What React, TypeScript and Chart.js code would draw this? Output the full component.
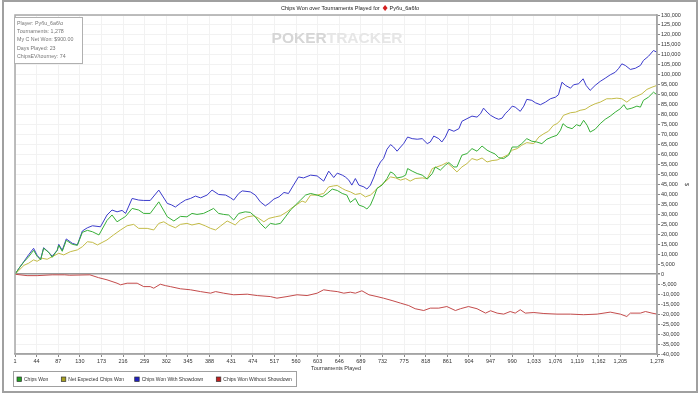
import React, { useEffect, useRef } from "react";
import { Chart, registerables } from "chart.js";

Chart.register(...registerables);

const CHART_TITLE = "Chips Won over Tournaments Played for";
const PLAYER_NAME = "Pyбu_6a6fo";
const INFO_LINES = [
  "Player: Pyбu_6a6\\o",
  "Tournaments: 1,278",
  "My C Net Won: $900.00",
  "Days Played: 23",
  "ChipsEV/tourney: 74",
];
const X_AXIS_TITLE = "Tournaments Played";
const Y_AXIS_TITLE = "$";
const WATERMARK_A = "POKER";
const WATERMARK_B = "TRACKER";

const X_TICKS = [
  1, 44, 87, 130, 173, 216, 259, 302, 345, 388, 431, 474, 517, 560, 603, 646, 689, 732, 775, 818,
  861, 904, 947, 990, 1033, 1076, 1119, 1162, 1205, 1278,
];
const Y_MIN = -40000;
const Y_MAX = 130000;
const Y_STEP = 5000;

const SERIES_NAMES = [
  "Chips Won",
  "Net Expected Chips Won",
  "Chips Won With Showdown",
  "Chips Won Without Showdown",
];

// [tournament, chips]
const chipsWon: [number, number][] = [
  [1, 0], [9, 3000], [19, 6300], [28, 8700], [38, 12000], [45, 9000], [52, 7200], [58, 13000],
  [68, 11000], [75, 8500], [85, 12000], [88, 14500], [95, 11500], [103, 17000], [115, 15000],
  [125, 14500], [135, 21000], [145, 22000], [155, 21300], [168, 19700], [184, 27000], [194, 29700],
  [204, 26300], [221, 29000], [234, 33000], [247, 32200], [257, 30500], [270, 30500], [287, 36300],
  [304, 28800], [317, 26700], [330, 29000], [343, 28800], [353, 30500], [363, 30000], [376, 30500],
  [386, 31700], [396, 33000], [406, 30500], [416, 30000], [426, 29700], [436, 27200], [446, 30500],
  [459, 31300], [469, 31000], [479, 28800], [489, 25500], [499, 23000], [509, 25500], [519, 25000],
  [529, 25500], [539, 28800], [549, 32200], [559, 34700], [569, 37200], [579, 39700], [589, 40500],
  [602, 39700], [612, 38800], [622, 40500], [632, 42700], [642, 42000], [652, 40500], [661, 39700],
  [668, 36000], [678, 38000], [685, 34700], [695, 33800], [701, 32700], [708, 34700], [715, 38800],
  [721, 43000], [731, 44700], [741, 48000], [748, 51300], [754, 50500], [761, 48300], [771, 48800],
  [778, 49700], [782, 53000], [791, 51700], [801, 50500], [811, 49700], [821, 47700], [831, 50500],
  [837, 53800], [847, 52200], [857, 54700], [864, 56000], [874, 53800], [880, 53800], [890, 59700],
  [900, 60500], [910, 63000], [920, 61700], [930, 64300], [940, 62200], [947, 61300], [956, 60300],
  [963, 58500], [973, 58000], [983, 59700], [990, 63800], [1000, 63800], [1009, 65500], [1019, 68000],
  [1029, 66700], [1039, 66300], [1049, 65500], [1059, 67700], [1069, 68800], [1079, 69700],
  [1086, 72200], [1091, 75500], [1099, 73800], [1109, 73000], [1118, 75000], [1125, 74300],
  [1132, 77200], [1139, 74700], [1145, 71300], [1155, 72700], [1165, 75500], [1175, 77700],
  [1185, 79300], [1195, 81300], [1205, 83000], [1212, 85000], [1218, 82700], [1228, 83300],
  [1238, 84300], [1245, 83800], [1251, 87200], [1261, 88800], [1271, 91300], [1278, 90000],
];

const netExpected: [number, number][] = [
  [1, 0], [19, 4500], [28, 5500], [38, 7200], [45, 6500], [55, 8000], [65, 7500], [75, 8800],
  [88, 10500], [98, 9700], [111, 11300], [125, 12200], [135, 13800], [145, 16300], [155, 16000],
  [165, 14700], [184, 17200], [197, 19700], [211, 22200], [224, 24300], [237, 25000], [247, 23000],
  [264, 23000], [277, 22200], [287, 25500], [297, 26300], [307, 24700], [320, 23300], [330, 25000],
  [343, 25500], [353, 24700], [367, 25500], [380, 24200], [390, 23000], [400, 22200], [410, 24200],
  [423, 26700], [433, 25500], [439, 24700], [449, 27200], [463, 28800], [476, 29300], [486, 28000],
  [496, 26300], [506, 28000], [519, 28800], [529, 29300], [542, 31300], [552, 33300], [562, 35000],
  [572, 36700], [579, 36000], [589, 39700], [602, 39700], [615, 40500], [625, 43800], [635, 44300],
  [642, 44500], [652, 43000], [658, 42200], [668, 41300], [678, 40000], [688, 40500], [698, 38800],
  [708, 39700], [715, 41300], [721, 43000], [731, 45000], [741, 47200], [748, 48800], [758, 48300],
  [768, 47200], [778, 48000], [787, 46700], [797, 48000], [811, 48300], [821, 48000], [831, 53000],
  [840, 53800], [850, 54700], [860, 56000], [870, 53800], [880, 51300], [890, 53800], [900, 55500],
  [910, 58000], [920, 57200], [930, 58300], [940, 56300], [950, 57000], [960, 57300], [966, 58000],
  [980, 59700], [990, 62200], [1000, 63000], [1009, 64700], [1019, 66000], [1033, 65500],
  [1043, 68800], [1053, 70500], [1062, 71700], [1072, 74700], [1079, 75500], [1086, 77200],
  [1092, 79700], [1106, 81000], [1116, 81300], [1125, 82200], [1135, 82700], [1145, 84300],
  [1155, 85500], [1165, 86300], [1178, 88000], [1188, 88000], [1198, 88300], [1208, 88000],
  [1218, 86300], [1228, 88300], [1238, 89300], [1248, 90500], [1258, 92700], [1268, 93800],
  [1278, 94700],
];

const withShowdown: [number, number][] = [
  [1, 0], [9, 3000], [19, 6500], [28, 9700], [38, 13000], [45, 9500], [52, 7500], [58, 13300],
  [68, 11000], [75, 9000], [85, 12000], [88, 15000], [95, 12000], [103, 17700], [115, 15500],
  [125, 14700], [135, 21700], [145, 23300], [155, 24300], [171, 23800], [184, 29700], [194, 32200],
  [204, 31300], [214, 32000], [221, 30500], [234, 38000], [247, 37200], [257, 37000], [270, 37000],
  [287, 42200], [304, 35500], [312, 34800], [320, 33700], [330, 35600], [340, 37200], [350, 38000],
  [360, 39200], [370, 38300], [383, 39700], [393, 42200], [406, 40000], [420, 39700], [430, 38300],
  [436, 37200], [446, 40500], [453, 41800], [469, 41300], [479, 39700], [489, 36300], [499, 34300],
  [506, 35500], [516, 37700], [526, 38800], [536, 41000], [545, 40500], [555, 44700], [565, 48800],
  [575, 48300], [589, 49700], [602, 49300], [615, 46700], [625, 51700], [635, 48500], [642, 50700],
  [652, 49700], [658, 48800], [665, 47200], [671, 44700], [678, 48000], [685, 44700], [695, 43800],
  [701, 42700], [708, 44700], [715, 48800], [721, 53000], [728, 56300], [734, 58000], [741, 62700],
  [748, 65000], [754, 63800], [761, 61700], [768, 63800], [774, 65500], [782, 68800], [791, 68000],
  [801, 67700], [811, 68000], [821, 65500], [827, 66300], [834, 69300], [844, 68000], [850, 66300],
  [857, 68800], [864, 72700], [874, 71700], [884, 73000], [890, 76700], [900, 78000], [910, 79300],
  [920, 78800], [927, 80500], [933, 83300], [940, 81300], [947, 79700], [956, 78400], [963, 77700],
  [970, 78300], [976, 80500], [983, 82200], [990, 84300], [996, 83800], [1006, 81700], [1013, 84300],
  [1019, 87700], [1029, 87200], [1036, 86000], [1046, 85000], [1056, 86300], [1066, 88000],
  [1076, 88800], [1082, 90000], [1089, 96300], [1096, 94700], [1106, 93300], [1112, 95000],
  [1122, 95500], [1131, 98000], [1137, 94700], [1145, 92200], [1155, 94700], [1165, 96700],
  [1175, 98300], [1185, 100000], [1195, 101300], [1202, 103300], [1208, 105500], [1215, 104700],
  [1225, 102700], [1235, 103300], [1245, 104700], [1251, 107200], [1261, 109300], [1271, 112200],
  [1278, 111300],
];

const withoutShowdown: [number, number][] = [
  [1, 0], [25, -700], [45, -700], [75, -300], [100, -300], [110, -500], [150, -300], [167, -1700],
  [184, -2800], [204, -4500], [211, -5300], [224, -4500], [244, -4500], [257, -6200], [270, -6200],
  [277, -7000], [290, -5000], [300, -5700], [310, -6200], [330, -7300], [350, -7800], [370, -8700],
  [390, -9500], [400, -8700], [416, -9500], [436, -10300], [463, -10000], [483, -10700],
  [509, -11200], [522, -12000], [542, -11200], [562, -10300], [582, -10700], [602, -9500],
  [615, -7800], [628, -8300], [642, -8700], [655, -9500], [668, -9000], [678, -9500], [691, -8300],
  [705, -10300], [721, -11200], [734, -12000], [751, -13200], [768, -14500], [784, -15700],
  [797, -17300], [814, -18200], [827, -17000], [844, -17000], [860, -16200], [877, -18200],
  [887, -17300], [903, -16200], [920, -17300], [937, -19500], [947, -18300], [960, -19500],
  [973, -20000], [986, -18700], [996, -19500], [1006, -17800], [1016, -19500], [1033, -19200],
  [1053, -19700], [1079, -20000], [1106, -20000], [1132, -20300], [1159, -20000], [1185, -19000],
  [1205, -20000], [1218, -21200], [1225, -19500], [1245, -19500], [1255, -18700], [1268, -19500],
  [1278, -20000],
];

const FONT = "'Liberation Sans', Arial, sans-serif";
const LINE_COLORS = ["#38b038", "#c4bc48", "#3c3ccc", "#c44c4c"];
const SWATCH_COLORS = ["#22a022", "#a8a020", "#2020c0", "#c02020"];
const fmt = (v: number) => Number(v).toLocaleString("en-US");

export default function App() {
  const ref = useRef<HTMLCanvasElement>(null);

  useEffect(() => {
    const canvas = ref.current;
    if (!canvas) return;
    const toXY = (arr: [number, number][]) => arr.map(([x, y]) => ({ x, y }));
    const seriesData = [chipsWon, netExpected, withShowdown, withoutShowdown];

    const decor = {
      id: "decor",
      beforeDraw(chart: any) {
        const ctx = chart.ctx;
        ctx.save();
        ctx.fillStyle = "#ffffff";
        ctx.fillRect(0, 0, chart.width, chart.height);
        ctx.restore();
      },
      beforeDatasetsDraw(chart: any) {
        const ctx = chart.ctx;
        ctx.save();
        ctx.font = `bold 15.5px ${FONT}`;
        ctx.textBaseline = "middle";
        const wa = ctx.measureText(WATERMARK_A).width;
        const wb = ctx.measureText(WATERMARK_B).width;
        const start = 337 - (wa + wb) / 2;
        ctx.fillStyle = "#d6d6d6";
        ctx.fillText(WATERMARK_A, start, 39);
        ctx.fillStyle = "#e6e6e6";
        ctx.fillText(WATERMARK_B, start + wa, 39);
        ctx.restore();
      },
      afterDraw(chart: any) {
        const ctx = chart.ctx;
        const a = chart.chartArea;
        ctx.save();
        // plot frame
        ctx.strokeStyle = "#a8a8a8";
        ctx.lineWidth = 1.5;
        ctx.strokeRect(a.left, a.top, a.right - a.left, a.bottom - a.top);
        // outer frame
        ctx.strokeStyle = "#a0a0a0";
        ctx.lineWidth = 2;
        ctx.strokeRect(3, 1, 694, 391);

        // title
        ctx.font = `5.5px ${FONT}`;
        ctx.textBaseline = "middle";
        ctx.fillStyle = "#222";
        const w1 = ctx.measureText(CHART_TITLE).width;
        const w2 = ctx.measureText(PLAYER_NAME).width;
        const total = w1 + 3 + 5 + 2 + w2;
        let tx = 350 - total / 2;
        ctx.fillText(CHART_TITLE, tx, 8);
        tx += w1 + 3;
        ctx.fillStyle = "#d42020";
        ctx.beginPath();
        ctx.moveTo(tx + 2.5, 5);
        ctx.lineTo(tx + 5, 8);
        ctx.lineTo(tx + 2.5, 11);
        ctx.lineTo(tx, 8);
        ctx.closePath();
        ctx.fill();
        tx += 7;
        ctx.fillStyle = "#222";
        ctx.fillText(PLAYER_NAME, tx, 8);

        // info box
        ctx.fillStyle = "#ffffff";
        ctx.fillRect(14.5, 17.5, 68, 46);
        ctx.strokeStyle = "#b0b0b0";
        ctx.lineWidth = 1;
        ctx.strokeRect(14.5, 17.5, 68, 46);
        ctx.fillStyle = "#777";
        ctx.font = `5.3px ${FONT}`;
        INFO_LINES.forEach((line, i) => {
          ctx.fillText(line, 17, 23.3 + i * 8.35);
        });

        // legend
        ctx.fillStyle = "#ffffff";
        ctx.fillRect(13.5, 371.5, 283, 15);
        ctx.strokeStyle = "#a0a0a0";
        ctx.strokeRect(13.5, 371.5, 283, 15);
        const sx = [19, 63.3, 136.7, 218.3];
        ctx.font = `5px ${FONT}`;
        SERIES_NAMES.forEach((name, i) => {
          ctx.fillStyle = SWATCH_COLORS[i];
          ctx.fillRect(sx[i] - 2, 377, 4.5, 4.5);
          ctx.strokeStyle = "#333";
          ctx.lineWidth = 0.7;
          ctx.strokeRect(sx[i] - 2, 377, 4.5, 4.5);
          ctx.fillStyle = "#333";
          ctx.fillText(name, sx[i] + 5, 379.5);
        });
        ctx.restore();
      },
    };

    const tickFont = { family: FONT, size: 5.5 };

    const chart = new Chart(canvas, {
      type: "line",
      data: {
        datasets: SERIES_NAMES.map((name, i) => ({
          label: name,
          data: toXY(seriesData[i]),
          borderColor: LINE_COLORS[i],
          backgroundColor: LINE_COLORS[i],
          borderWidth: 1,
          pointRadius: 0,
          tension: 0,
          fill: false,
        })),
      },
      options: {
        responsive: false,
        devicePixelRatio: 1,
        animation: false,
        layout: { padding: { left: 15, top: 15, right: 0, bottom: 20 } },
        plugins: {
          legend: { display: false },
          title: { display: false },
          tooltip: { enabled: false },
        },
        scales: {
          x: {
            type: "linear",
            position: "bottom",
            min: 1,
            max: 1278,
            afterBuildTicks: (s: any) => {
              s.ticks = X_TICKS.map((v) => ({ value: v }));
            },
            afterFit: (s: any) => {
              s.height = 20;
            },
            ticks: {
              autoSkip: false,
              maxRotation: 0,
              minRotation: 0,
              padding: 1,
              font: tickFont,
              color: "#333",
              callback: (v: any) => fmt(v),
            },
            grid: {
              color: "#f2f2f2",
              lineWidth: 1,
              drawTicks: true,
              tickLength: 3,
              tickColor: "#888",
            },
            border: { color: "#999", width: 1.5 },
            title: {
              display: true,
              text: X_AXIS_TITLE,
              font: tickFont,
              color: "#333",
              padding: { top: 0, bottom: 2 },
            },
          },
          y: {
            type: "linear",
            position: "right",
            min: Y_MIN,
            max: Y_MAX,
            afterFit: (s: any) => {
              s.width = 43;
            },
            ticks: {
              stepSize: Y_STEP,
              autoSkip: false,
              padding: 1,
              font: tickFont,
              color: "#333",
              callback: (v: any) => fmt(v),
            },
            grid: {
              color: (c: any) => (c.tick && c.tick.value === 0 ? "#9a9a9a" : "#f2f2f2"),
              lineWidth: (c: any) => (c.tick && c.tick.value === 0 ? 1.5 : 1),
              drawTicks: true,
              tickLength: 3,
              tickColor: "#888",
            },
            border: { color: "#999", width: 1.5 },
            title: {
              display: true,
              text: Y_AXIS_TITLE,
              font: tickFont,
              color: "#333",
              padding: { top: 10.5, bottom: 0 },
            },
          },
        },
      },
      plugins: [decor],
    } as any);

    return () => chart.destroy();
  }, []);

  return (
    <div style={{ position: "fixed", left: 0, top: 0, width: 700, height: 394, background: "#fff" }}>
      <canvas ref={ref} width={700} height={394} style={{ display: "block", width: 700, height: 394 }} />
    </div>
  );
}
